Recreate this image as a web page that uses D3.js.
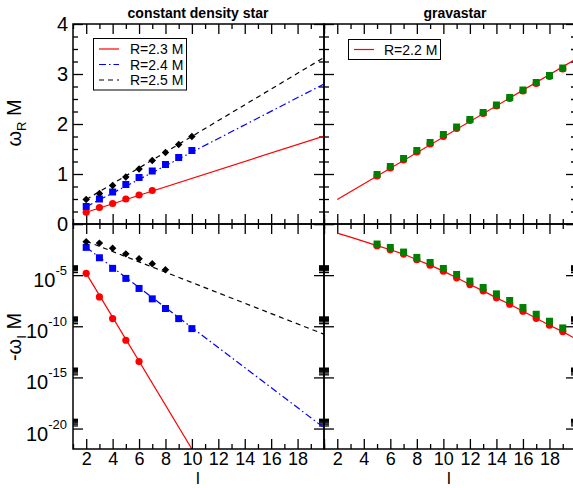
<!DOCTYPE html>
<html>
<head>
<meta charset="utf-8">
<script src="https://cdn.jsdelivr.net/npm/d3@7"></script>
<style>
body { margin: 0; background: #fff; }
svg { font-family: "Liberation Sans", Arial, sans-serif; }
</style>
</head>
<body>
<div id="chart"></div>
<script>
// ---- data ----
// constant density star, real part (omega_R M)
var csL23 = [2, 3, 4, 5, 6, 7];
var csReal23 = [0.235, 0.33, 0.41, 0.50, 0.58, 0.67];
var csL24 = [2, 3, 4, 5, 6, 7, 8, 9, 10];
var csReal24 = [0.35, 0.50, 0.64, 0.79, 0.93, 1.06, 1.19, 1.33, 1.47];
var csL25 = [2, 3, 4, 5, 6, 7, 8, 9, 10];
var csReal25 = [0.49, 0.61, 0.77, 0.94, 1.10, 1.27, 1.43, 1.59, 1.75];
// fitted lines, end points
var fitL = [2, 20];
var csRealFit23 = [0.235, 1.76];
var csRealFit24 = [0.347, 2.80];
var csRealFit25 = [0.49, 3.33];

// constant density star, imaginary part (-omega_I M)
var csImagL23 = [2, 3, 4, 5, 6];
var csImag23 = [1.5e-5, 7.4e-8, 5.6e-10, 4.3e-12, 3.5e-14];
var csImagL24 = [2, 3, 4, 5, 6, 7, 8, 9, 10];
var csImag24 = [5.2e-3, 5.0e-4, 4.6e-5, 4.8e-6, 5.0e-7, 4.8e-8, 5.5e-9, 5.6e-10, 5.9e-11];
var csImagL25 = [2, 3, 4, 5, 6, 7, 8];
var csImag25 = [1.8e-2, 1.35e-2, 4.2e-3, 1.2e-3, 4.0e-4, 1.3e-4, 3.3e-5];
var csImagFitL23 = [2, 10];
var csImagFit23 = [1.5e-5, 1e-22];
var csImagFit24 = [5.2e-3, 1.2e-20];
var csImagFit25 = [2.1e-2, 1.66e-11];

// gravastar R=2.2 M
var gvL = [5, 6, 7, 8, 9, 10, 11, 12, 13, 14, 15, 16, 17, 18, 19];
var gvRealGreen = [0.99, 1.15, 1.31, 1.47, 1.63, 1.79, 1.94, 2.09, 2.23, 2.38, 2.53, 2.68, 2.83, 2.97, 3.12];
var gvRealRed = [0.96, 1.12, 1.28, 1.44, 1.60, 1.75, 1.91, 2.07, 2.21, 2.36, 2.51, 2.66, 2.81, 2.95, 3.10];
var gvRealFit = [0.49, 3.30];
var gvImagGreen = [1.1e-2, 5.1e-3, 1.8e-3, 5.4e-4, 1.74e-4, 4.5e-5, 1.17e-5, 2.6e-6, 6.2e-7, 1.48e-7, 3.3e-8, 6.8e-9, 1.5e-9, 3.1e-10, 6.9e-11];
var gvImagRed = [7.6e-3, 3.0e-3, 1.15e-3, 3.2e-4, 9.5e-5, 2.45e-5, 5.5e-6, 1.2e-6, 2.9e-7, 6.0e-8, 1.45e-8, 2.95e-9, 6.0e-10, 1.26e-10, 3.0e-11];
var gvLineL = [2, 3, 4, 5, 6, 7, 8, 9, 10, 11, 12, 13, 14, 15, 16, 17, 18, 19, 20];
var gvImagLine = [1.3e-1, 5.2e-2, 2.0e-2, 7.6e-3, 3.0e-3, 1.15e-3, 3.2e-4, 9.5e-5, 2.45e-5, 5.5e-6, 1.2e-6, 2.9e-7, 6.0e-8, 1.45e-8, 2.95e-9, 6.0e-10, 1.26e-10, 3.0e-11, 5.6e-12];

// tick values
var xMajor = [2, 4, 6, 8, 10, 12, 14, 16, 18, 20];
var xMinor = [1, 3, 5, 7, 9, 11, 13, 15, 17, 19];
var yRealMajor = [0, 1, 2, 3, 4];
var yRealMinor = d3.range(0.25, 4, 0.25).filter(function (d) { return d % 1 != 0; });
var yImagMajor = [1, 1e-5, 1e-10, 1e-15, 1e-20];
var yImagExp = [-5, -10, -15, -20];

var width = 573,
    height = 488;

var svg = d3.select("#chart")
    .append("svg")
    .attr("width", width)
    .attr("height", height);

var xLeft = d3.scaleLinear().domain([1, 20]).range([73, 324]);
var xRight = d3.scaleLinear().domain([1, 20]).range([324, 576]);
var yReal = d3.scaleLinear().domain([0, 4]).range([224, 24]);
var yImag = d3.scaleLog().domain([1e-22, 1]).range([449, 224]);

var yImagMinor = [];
yImagExp.forEach(function (e) {
    for (var m = 2; m <= 9; m++) yImagMinor.push(m * Math.pow(10, e));
});

// clip paths for the four panels
var defs = svg.append("defs");
function addClip(id, x, y) {
    defs.append("clipPath").attr("id", id)
        .append("rect")
        .attr("x", x.range()[0]).attr("y", y.range()[1])
        .attr("width", x.range()[1] - x.range()[0])
        .attr("height", y.range()[0] - y.range()[1]);
}
addClip("clipTL", xLeft, yReal);
addClip("clipTR", xRight, yReal);
addClip("clipBL", xLeft, yImag);
addClip("clipBR", xRight, yImag);

//ticks on all four sides, pointing inward
function drawTicks(x, y, yMajor, yMinor) {
    var g = svg.append("g");
    var x0 = x.range()[0], x1 = x.range()[1];
    var yb = y.range()[0], yt = y.range()[1];
    var sets = [[xMajor, yMajor, 10], [xMinor, yMinor, 5]];
    sets.forEach(function (s) {
        g.append("g").attr("transform", "translate(0," + yb + ")")
            .call(d3.axisBottom(x).tickValues(s[0]).tickSizeInner(-s[2]).tickSizeOuter(0).tickFormat(""));
        g.append("g").attr("transform", "translate(0," + yt + ")")
            .call(d3.axisTop(x).tickValues(s[0]).tickSizeInner(-s[2]).tickSizeOuter(0).tickFormat(""));
        g.append("g").attr("transform", "translate(" + x0 + ",0)")
            .call(d3.axisLeft(y).tickValues(s[1]).tickSizeInner(-s[2]).tickSizeOuter(0).tickFormat(""));
        g.append("g").attr("transform", "translate(" + x1 + ",0)")
            .call(d3.axisRight(y).tickValues(s[1]).tickSizeInner(-s[2]).tickSizeOuter(0).tickFormat(""));
    });
    g.selectAll(".domain").remove();
    g.selectAll(".tick line").attr("stroke", "#000").attr("stroke-width", 1.3);
}

drawTicks(xLeft, yReal, yRealMajor, yRealMinor);
drawTicks(xRight, yReal, yRealMajor, yRealMinor);
drawTicks(xLeft, yImag, yImagMajor, yImagMinor);
drawTicks(xRight, yImag, yImagMajor, yImagMinor);

// ---- lines and markers ----
function line(x, y) {
    return d3.line()
        .x(function (d) { return x(d[0]); })
        .y(function (d) { return y(d[1]); });
}
function drawLine(clip, x, y, ls, vs, color, dash) {
    svg.append("path")
        .datum(d3.zip(ls, vs))
        .attr("clip-path", "url(#" + clip + ")")
        .attr("fill", "none")
        .attr("stroke", color)
        .attr("stroke-width", 1.2)
        .attr("stroke-dasharray", dash)
        .attr("d", line(x, y));
}
function drawCircles(x, y, ls, vs, color) {
    svg.append("g").selectAll("circle")
        .data(d3.zip(ls, vs))
        .enter().append("circle")
        .attr("cx", function (d) { return x(d[0]); })
        .attr("cy", function (d) { return y(d[1]); })
        .attr("r", 3.6)
        .attr("fill", color);
}
function drawSymbols(x, y, ls, vs, color, size, rot) {
    svg.append("g").selectAll("path")
        .data(d3.zip(ls, vs))
        .enter().append("path")
        .attr("d", d3.symbol(d3.symbolSquare, size))
        .attr("transform", function (d) {
            return "translate(" + x(d[0]) + "," + y(d[1]) + ") rotate(" + rot + ")";
        })
        .attr("fill", color);
}

var dashBlue = "7,3,1.5,3";
var dashBlack = "5,4";

// top left
drawLine("clipTL", xLeft, yReal, fitL, csRealFit23, "#ff0000", null);
drawLine("clipTL", xLeft, yReal, fitL, csRealFit24, "#0000ff", dashBlue);
drawLine("clipTL", xLeft, yReal, fitL, csRealFit25, "#000", dashBlack);
drawCircles(xLeft, yReal, csL23, csReal23, "#ff0000");
drawSymbols(xLeft, yReal, csL24, csReal24, "#0000ff", 49, 0);
drawSymbols(xLeft, yReal, csL25, csReal25, "#000", 28, 45);

// bottom left
drawLine("clipBL", xLeft, yImag, csImagFitL23, csImagFit23, "#ff0000", null);
drawLine("clipBL", xLeft, yImag, fitL, csImagFit24, "#0000ff", dashBlue);
drawLine("clipBL", xLeft, yImag, fitL, csImagFit25, "#000", dashBlack);
drawCircles(xLeft, yImag, csImagL23, csImag23, "#ff0000");
drawSymbols(xLeft, yImag, csImagL24, csImag24, "#0000ff", 49, 0);
drawSymbols(xLeft, yImag, csImagL25, csImag25, "#000", 28, 45);

// top right (gravastar)
drawLine("clipTR", xRight, yReal, fitL, gvRealFit, "#ff0000", null);
drawCircles(xRight, yReal, gvL, gvRealRed, "#ff0000");
drawSymbols(xRight, yReal, gvL, gvRealGreen, "#008000", 49, 0);

// bottom right (gravastar)
drawLine("clipBR", xRight, yImag, gvLineL, gvImagLine, "#ff0000", null);
drawCircles(xRight, yImag, gvL, gvImagRed, "#ff0000");
drawSymbols(xRight, yImag, gvL, gvImagGreen, "#008000", 49, 0);

// panel frames
[[xLeft, yReal], [xRight, yReal], [xLeft, yImag], [xRight, yImag]].forEach(function (p) {
    svg.append("rect")
        .attr("x", p[0].range()[0]).attr("y", p[1].range()[1])
        .attr("width", p[0].range()[1] - p[0].range()[0])
        .attr("height", p[1].range()[0] - p[1].range()[1])
        .attr("fill", "none")
        .attr("stroke", "#000")
        .attr("stroke-width", 1.5);
});

// ---- tick labels ----
var xLabelAxis = function (x) {
    return d3.axisBottom(x).tickValues(xMajor).tickSize(0).tickPadding(3)
        .tickFormat(function (d) { return d < 20 ? d : ""; });
};
[xLeft, xRight].forEach(function (x) {
    var g = svg.append("g").attr("transform", "translate(0,449)").call(xLabelAxis(x));
    g.select(".domain").remove();
    g.selectAll("text").attr("font-size", 18).attr("font-family", null).attr("fill", "#000");
});

var gy = svg.append("g").attr("transform", "translate(73,0)")
    .call(d3.axisLeft(yReal).tickValues(yRealMajor).tickSize(0).tickPadding(5)
        .tickFormat(d3.format("d")));
gy.select(".domain").remove();
gy.selectAll("text").attr("font-size", 20).attr("font-family", null).attr("fill", "#000");

// log labels 10^-5 ... 10^-20
var logLabels = svg.append("g").selectAll("text")
    .data(yImagExp)
    .enter().append("text")
    .attr("x", 67)
    .attr("y", function (d) { return yImag(Math.pow(10, d)) + 12; })
    .attr("text-anchor", "end")
    .attr("font-size", 20);
logLabels.append("tspan").text("10");
logLabels.append("tspan")
    .attr("dy", -12)
    .attr("font-size", 13)
    .text(function (d) { return d; });

// ---- axis titles ----
var yt1 = svg.append("text")
    .attr("transform", "translate(21,123) rotate(-90)")
    .attr("text-anchor", "middle")
    .attr("font-size", 20);
yt1.append("tspan").text("ω");
yt1.append("tspan").attr("dy", 5).attr("font-size", 13).text("R");
yt1.append("tspan").attr("dy", -5).text(" M");

var yt2 = svg.append("text")
    .attr("transform", "translate(21,337) rotate(-90)")
    .attr("text-anchor", "middle")
    .attr("font-size", 20);
yt2.append("tspan").text("-ω");
yt2.append("tspan").attr("dy", 5).attr("font-size", 13).text("I");
yt2.append("tspan").attr("dy", -5).text(" M");

svg.append("text").attr("x", 198).attr("y", 484).attr("text-anchor", "middle")
    .attr("font-size", 17).text("l");
svg.append("text").attr("x", 449).attr("y", 484).attr("text-anchor", "middle")
    .attr("font-size", 17).text("l");

svg.append("text").attr("x", 198).attr("y", 18).attr("text-anchor", "middle")
    .attr("font-size", 14).attr("font-weight", "bold").text("constant density star");
svg.append("text").attr("x", 455).attr("y", 18).attr("text-anchor", "middle")
    .attr("font-size", 14).attr("font-weight", "bold").text("gravastar");

// ---- legends ----
var legendLabels = ["R=2.3 M", "R=2.4 M", "R=2.5 M"];
var legendColors = ["#ff0000", "#0000ff", "#000"];
var legendDash = [null, dashBlue, dashBlack];

svg.append("rect")
    .attr("x", 93.5).attr("y", 38.5).attr("width", 93).attr("height", 51.5)
    .attr("fill", "#fff").attr("stroke", "#000").attr("stroke-width", 1);
legendLabels.forEach(function (t, i) {
    var yy = 49 + i * 15.5;
    svg.append("line")
        .attr("x1", 99).attr("x2", 119).attr("y1", yy).attr("y2", yy)
        .attr("stroke", legendColors[i]).attr("stroke-width", 1.2)
        .attr("stroke-dasharray", legendDash[i]);
    svg.append("text").attr("x", 130).attr("y", yy + 5)
        .attr("font-size", 14).text(t);
});

svg.append("rect")
    .attr("x", 348.5).attr("y", 39.5).attr("width", 92).attr("height", 20)
    .attr("fill", "#fff").attr("stroke", "#000").attr("stroke-width", 1);
svg.append("line")
    .attr("x1", 354).attr("x2", 374).attr("y1", 49.5).attr("y2", 49.5)
    .attr("stroke", "#ff0000").attr("stroke-width", 1.2);
svg.append("text").attr("x", 384).attr("y", 54.5)
    .attr("font-size", 14).text("R=2.2 M");
</script>
</body>
</html>
